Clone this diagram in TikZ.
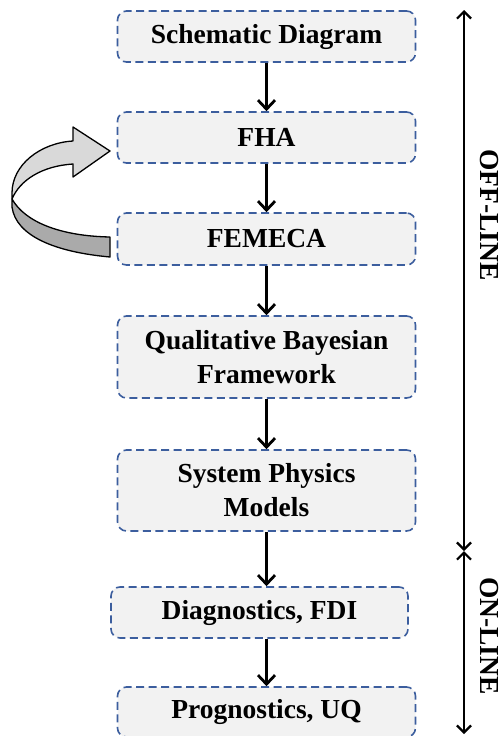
\documentclass[tikz,border=0pt]{standalone}
\usepackage{fontspec}
\setmainfont{Liberation Serif}
\usetikzlibrary{arrows.meta}
\definecolor{boxblue}{RGB}{60,94,158}
\definecolor{boxfill}{RGB}{242,242,242}
\definecolor{ribbonlight}{RGB}{217,217,217}
\definecolor{ribbondark}{RGB}{170,170,170}
\begin{document}
\begin{tikzpicture}[x=1pt,y=-1pt,
  stage/.style={draw=boxblue, fill=boxfill, line width=1.6pt,
    dash pattern=on 8pt off 4.5pt, rounded corners=9pt,
    minimum width=298pt, align=center, inner sep=0pt,
    font=\fontsize{27.5}{34}\selectfont\bfseries},
  flow/.style={line width=2.8pt, -{Straight Barb[length=9pt,width=17pt,line width=2.8pt]}},
  span/.style={line width=2.2pt, {Straight Barb[length=7pt,width=14pt,line width=2.2pt]}-{Straight Barb[length=7pt,width=14pt,line width=2.2pt]}},
  phase/.style={rotate=-90, inner sep=0pt, font=\fontsize{27.5}{34}\selectfont\bfseries},
  ribbon/.style={draw=black, line width=1.3pt, line join=round}]
\useasboundingbox (0,0) rectangle (502,736);

% process stages
\node[stage, minimum height=51pt] (schem) at (266.5,36.5) {Schematic Diagram};
\node[stage, minimum height=51pt] (fha)   at (266.5,137.5) {FHA};
\node[stage, minimum height=52pt] (femeca) at (266.5,239) {FEMECA};
\node[stage, minimum height=82pt] (qbf)   at (266.5,357) {Qualitative Bayesian\\Framework};
\node[stage, minimum height=81pt] (spm)   at (266.5,490.5) {System Physics\\Models};
\node[stage, minimum height=51pt, minimum width=297pt] (diag) at (259.5,612.5) {Diagnostics, FDI};
\node[stage, minimum height=50pt] (prog)  at (266.5,712) {Prognostics, UQ};

% flow between stages
\draw[flow] (schem) -- (fha);
\draw[flow] (fha) -- (femeca);
\draw[flow] (femeca) -- (qbf);
\draw[flow] (qbf) -- (spm);
\draw[flow] (spm.south) -- (spm.south |- diag.north);
\draw[flow] (diag.south -| prog.north) -- (prog);

% off-line / on-line spans
\coordinate (offtop) at (464,10);
\coordinate (split)  at (464,551);
\coordinate (onbot)  at (464,734);
\draw[span] (offtop) -- (split);
\draw[span] (split) -- (onbot);
\node[phase] (offl) at (489,215) {OFF-LINE};
\node[phase] (onl)  at (489,636) {ON-LINE};

% curved feedback arrow from FEMECA back to FHA
\fill[ribbondark] (12,199) .. controls (25,222) and (60,236) .. (110,237)
  -- (110,257) .. controls (55,252) and (16,236) .. (12,207) -- cycle;
\draw[ribbon] (12,199) .. controls (25,222) and (60,236) .. (110,237)
  -- (110,257) .. controls (55,252) and (16,236) .. (12,207) -- cycle;
\draw[ribbon, fill=ribbonlight] (73,141) -- (73,127) -- (110,151) -- (73,177) -- (73,164)
  .. controls (42,166) and (20,180) .. (12,199)
  -- (12,193) .. controls (12,165) and (40,143) .. (73,141) -- cycle;
\end{tikzpicture}
\end{document}
